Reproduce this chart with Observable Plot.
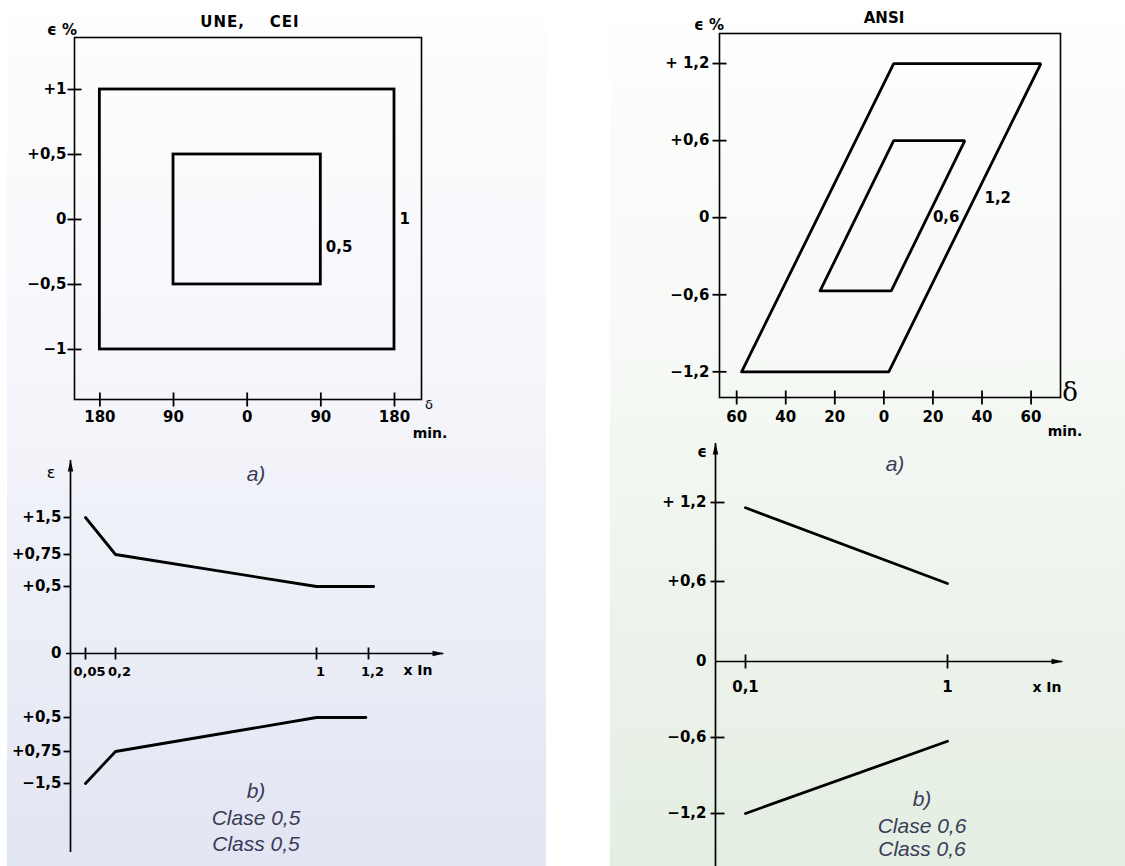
<!DOCTYPE html>
<html>
<head>
<meta charset="utf-8">
<script src="https://cdn.jsdelivr.net/npm/d3@7"></script>
<script src="https://cdn.jsdelivr.net/npm/@observablehq/plot@0.6"></script>
<style>
  html, body { margin: 0; padding: 0; background: #fff; }
  #root { position: relative; width: 1125px; height: 866px; overflow: hidden; background: #fff;
          font-family: "DejaVu Sans", "Liberation Sans", Arial, sans-serif; }
  .bg { position: absolute; }
  .plot { position: absolute; }
  .lbl { position: absolute; white-space: pre; line-height: 1; color: #000; }
  .b { font-weight: bold; }
  .it { font-style: italic; color: #3a3c58; font-size: 21px; font-family: "Liberation Sans", Arial, sans-serif; }
</style>
</head>
<body>
<div id="root">
  <div class="bg" style="left:7px;top:15px;width:539px;height:851px;background:linear-gradient(#fdfdfe 0%, #f6f7fb 40%, #eceef7 70%, #e2e5f2 100%);"></div>
  <div class="bg" style="left:610px;top:20px;width:515px;height:846px;background:linear-gradient(#fdfefd 0%, #f6f9f5 40%, #edf3ec 70%, #e4eee2 100%);"></div>
</div>
<script>
// ---------------- DATA ----------------
// (a) UNE, CEI : rectangular error limits (delta in minutes, epsilon in %)
const uneClasses = ["1", "0,5"];
const uneDeltaLimit = [180, 90];
const uneEpsLimit = [1, 0.5];
const uneLabelEps = [0, -0.21];
const uneXTicks = [-180, -90, 0, 90, 180];
const uneXTickLabels = ["180", "90", "0", "90", "180"];
const uneYTicks = [1, 0.5, 0, -0.5, -1];
const uneYTickLabels = ["+1", "+0,5", "0", "\u22120,5", "\u22121"];

// (a) ANSI : parallelogram limits
const ansiClasses = ["1,2", "0,6"];
const ansiOuterDelta = [-58, 2, 64, 4];
const ansiOuterEps = [-1.2, -1.2, 1.2, 1.2];
const ansiInnerDelta = [-26, 3, 33, 4];
const ansiInnerEps = [-0.57, -0.57, 0.6, 0.6];
const ansiLabelDelta = [41, 20];
const ansiLabelEps = [0.15, 0];
const ansiXTicks = [-60, -40, -20, 0, 20, 40, 60];
const ansiXTickLabels = ["60", "40", "20", "0", "20", "40", "60"];
const ansiYTicks = [1.2, 0.6, 0, -0.6, -1.2];
const ansiYTickLabels = ["+ 1,2", "+0,6", "0", "\u22120,6", "\u22121,2"];

// (b) Clase 0,5 : epsilon vs x In
const c05UpperIn = [0.05, 0.2, 1, 1.22];
const c05UpperEps = [1.5, 0.75, 0.5, 0.5];
const c05LowerIn = [0.05, 0.2, 1, 1.19];
const c05LowerEps = [-1.5, -0.75, -0.5, -0.5];
const c05XTicks = [0.05, 0.2, 1, 1.2];
const c05XTickLabels = ["0,05", "0,2", "1", "1,2"];
const c05YTicks = [1.5, 0.75, 0.5, 0, -0.5, -0.75, -1.5];
const c05YTickLabels = ["+1,5", "+0,75", "+0,5", "0", "+0,5", "+0,75", "\u22121,5"];

// (b) Clase 0,6 : epsilon vs x In
const c06UpperIn = [0.1, 1];
const c06UpperEps = [1.16, 0.585];
const c06LowerIn = [0.1, 1];
const c06LowerEps = [-1.2, -0.63];
const c06XTicks = [0.1, 1];
const c06XTickLabels = ["0,1", "1"];
const c06YTicks = [1.2, 0.6, 0, -0.6, -1.2];
const c06YTickLabels = ["+ 1,2", "+0,6", "0", "\u22120,6", "\u22121,2"];

// ---------------- HELPERS ----------------
const root = document.getElementById("root");
const rad = s => Math.sqrt(s / Math.PI);
const tickV = {draw(c, s) { const r = rad(s); c.moveTo(0, -r); c.lineTo(0, r); }};
const tickH = {draw(c, s) { const r = rad(s); c.moveTo(-r, 0); c.lineTo(r, 0); }};
const tickLeft = {draw(c, s) { const r = rad(s); c.moveTo(-r, 0); c.lineTo(0, 0); }};
const arrowUp = {draw(c, s) { const r = rad(s); c.moveTo(0, -1); c.lineTo(r * 0.55, r * 2.2); c.lineTo(-r * 0.55, r * 2.2); c.closePath(); }};
const arrowRight = {draw(c, s) { const r = rad(s); c.moveTo(1, 0); c.lineTo(-r * 2.2, r * 0.55); c.lineTo(-r * 2.2, -r * 0.55); c.closePath(); }};

const style = {
  background: "transparent", color: "#000", overflow: "visible",
  fontFamily: "'DejaVu Sans', 'Liberation Sans', Arial, sans-serif",
  fontSize: "15px", fontWeight: "bold"
};
const FS = 15;
function place(svg, left, top) {
  svg.classList.add("plot");
  svg.style.left = left + "px";
  svg.style.top = top + "px";
  root.appendChild(svg);
}
function label(text, x, y, cls, css = "") {
  const d = document.createElement("div");
  d.className = "lbl " + cls;
  d.textContent = text;
  d.style.cssText += `left:${x}px;top:${y}px;transform:translate(-50%,-50%);` + css;
  root.appendChild(d);
}
const tickStyle = {stroke: "#000", strokeWidth: 1.8, fill: "none"};

// ---------------- (a) UNE, CEI ----------------
const uneRects = uneClasses.map((cls, i) => ({
  cls, x1: -uneDeltaLimit[i], x2: uneDeltaLimit[i], y1: -uneEpsLimit[i], y2: uneEpsLimit[i], ly: uneLabelEps[i]
}));
place(Plot.plot({
  width: 560, height: 440,
  marginLeft: 74, marginRight: 139, marginTop: 37, marginBottom: 41,
  x: {domain: [-211, 213], axis: null},
  y: {domain: [-1.385, 1.40], axis: null},
  style,
  marks: [
    Plot.frame({stroke: "#000", strokeWidth: 1.6}),
    Plot.rect(uneRects, {x1: "x1", x2: "x2", y1: "y1", y2: "y2", fill: "none", stroke: "#000", strokeWidth: 2.8}),
    Plot.dot(uneXTicks, {x: d => d, frameAnchor: "bottom", symbol: tickV, r: 7, ...tickStyle}),
    Plot.dot(uneYTicks, {y: d => d, frameAnchor: "left", symbol: tickH, r: 7, ...tickStyle}),
    Plot.text(uneXTicks, {x: d => d, frameAnchor: "bottom", dy: 22, fontSize: FS, text: (d, i) => uneXTickLabels[i]}),
    Plot.text(uneYTicks, {y: d => d, frameAnchor: "left", dx: -8, textAnchor: "end", fontSize: FS, text: (d, i) => uneYTickLabels[i]}),
    Plot.text(uneRects, {x: "x2", y: "ly", dx: 5, textAnchor: "start", fontSize: FS, text: "cls"})
  ]
}), 0, 0);

// ---------------- (a) ANSI ----------------
const ansiRows = [
  ...ansiOuterDelta.concat(ansiOuterDelta[0]).map((d, i) => ({cls: ansiClasses[0], d, e: ansiOuterEps.concat(ansiOuterEps[0])[i]})),
  ...ansiInnerDelta.concat(ansiInnerDelta[0]).map((d, i) => ({cls: ansiClasses[1], d, e: ansiInnerEps.concat(ansiInnerEps[0])[i]}))
];
const ansiLabels = ansiClasses.map((cls, i) => ({cls, d: ansiLabelDelta[i], e: ansiLabelEps[i]}));
place(Plot.plot({
  width: 565, height: 440,
  marginLeft: 159, marginRight: 65, marginTop: 33, marginBottom: 43,
  x: {domain: [-67, 72], axis: null},
  y: {domain: [-1.40, 1.434], axis: null},
  style,
  marks: [
    Plot.frame({stroke: "#000", strokeWidth: 1.6}),
    Plot.line(ansiRows, {x: "d", y: "e", z: "cls", stroke: "#000", strokeWidth: 2.8, strokeLinejoin: "miter", curve: "linear"}),
    Plot.dot(ansiXTicks, {x: d => d, frameAnchor: "bottom", symbol: tickV, r: 7, ...tickStyle}),
    Plot.dot(ansiYTicks, {y: d => d, frameAnchor: "left", symbol: tickH, r: 7, ...tickStyle}),
    Plot.text(ansiXTicks, {x: d => d, frameAnchor: "bottom", dy: 24, fontSize: FS, text: (d, i) => ansiXTickLabels[i]}),
    Plot.text(ansiYTicks, {y: d => d, frameAnchor: "left", dx: -10, textAnchor: "end", fontSize: FS, text: (d, i) => ansiYTickLabels[i]}),
    Plot.text(ansiLabels, {x: "d", y: "e", textAnchor: "start", fontSize: FS, text: "cls"})
  ]
}), 560, 0);

// ---------------- (b) Clase 0,5 ----------------
const c05Rows = [
  ...c05UpperIn.map((x, i) => ({side: "upper", x, e: c05UpperEps[i]})),
  ...c05LowerIn.map((x, i) => ({side: "lower", x, e: c05LowerEps[i]}))
];
place(Plot.plot({
  width: 560, height: 436,
  marginLeft: 70, marginRight: 117, marginTop: 30, marginBottom: 14,
  x: {type: "linear", domain: [0, 0.05, 0.2, 1, 1.2], range: [70, 85, 115, 316, 368], axis: null},
  y: {type: "linear", domain: [-1.5, -0.75, -0.5, 0, 0.5, 0.75, 1.5], range: [353, 321, 287, 223, 156, 124, 87], axis: null},
  style,
  marks: [
    Plot.ruleX([0], {stroke: "#000", strokeWidth: 1.7}),
    Plot.ruleY([0], {stroke: "#000", strokeWidth: 1.7, insetLeft: -4}),
    Plot.dot([0], {x: d => d, frameAnchor: "top", symbol: arrowUp, r: 5, fill: "#000", stroke: "none"}),
    Plot.dot([0], {y: d => d, frameAnchor: "right", symbol: arrowRight, r: 5, fill: "#000", stroke: "none"}),
    Plot.dot(c05YTicks.filter(d => d !== 0), {y: d => d, frameAnchor: "left", symbol: tickLeft, r: 7, ...tickStyle}),
    Plot.dot(c05XTicks, {x: d => d, y: () => 0, symbol: tickV, r: 6, ...tickStyle}),
    Plot.text(c05YTicks, {y: d => d, frameAnchor: "left", dx: -9, textAnchor: "end", fontSize: FS, text: (d, i) => c05YTickLabels[i]}),
    Plot.text(c05XTicks, {x: d => d, y: () => 0, dx: 4, dy: 18, fontSize: 13, text: (d, i) => c05XTickLabels[i]}),
    Plot.line(c05Rows, {x: "x", y: "e", z: "side", stroke: "#000", strokeWidth: 2.8})
  ]
}), 0, 430);

// ---------------- (b) Clase 0,6 ----------------
const c06Rows = [
  ...c06UpperIn.map((x, i) => ({side: "upper", x, e: c06UpperEps[i]})),
  ...c06LowerIn.map((x, i) => ({side: "lower", x, e: c06LowerEps[i]}))
];
place(Plot.plot({
  width: 565, height: 436,
  marginLeft: 155, marginRight: 63, marginTop: 13, marginBottom: 0,
  x: {type: "linear", domain: [0, 0.1, 1], range: [155, 185, 387], axis: null},
  y: {type: "linear", domain: [-1.2, -0.6, 0, 0.6, 1.2], range: [383, 307, 231, 151, 72], axis: null},
  style,
  marks: [
    Plot.ruleX([0], {stroke: "#000", strokeWidth: 1.7}),
    Plot.ruleY([0], {stroke: "#000", strokeWidth: 1.7}),
    Plot.dot([0], {x: d => d, frameAnchor: "top", symbol: arrowUp, r: 5, fill: "#000", stroke: "none"}),
    Plot.dot([0], {y: d => d, frameAnchor: "right", symbol: arrowRight, r: 5, fill: "#000", stroke: "none"}),
    Plot.dot(c06YTicks.filter(d => d !== 0), {y: d => d, frameAnchor: "left", symbol: tickH, r: 7, ...tickStyle, dx: 2}),
    Plot.dot(c06XTicks, {x: d => d, y: () => 0, symbol: tickV, r: 7, ...tickStyle}),
    Plot.text(c06YTicks, {y: d => d, frameAnchor: "left", dx: -9, textAnchor: "end", fontSize: FS, text: (d, i) => c06YTickLabels[i]}),
    Plot.text(c06XTicks, {x: d => d, y: () => 0, dy: 26, fontSize: FS, text: (d, i) => c06XTickLabels[i]}),
    Plot.line(c06Rows, {x: "x", y: "e", z: "side", stroke: "#000", strokeWidth: 2.8})
  ]
}), 560, 430);

// ---------------- TEXT ANNOTATIONS ----------------
label("UNE,    CEI", 250, 22, "b", "font-size:15px;letter-spacing:1px;");
label("\u03F5 %", 62, 30, "b", "font-size:15px;");
label("\u03B4", 429, 404, "", "font-size:13px;");
label("min.", 430, 433, "b", "font-size:14px;");
label("ANSI", 884, 18, "b", "font-size:15px;");
label("\u03F5 %", 709, 25, "b", "font-size:15px;");
label("\u03B4", 1070, 392, "", "font-size:26px;font-family:'DejaVu Serif',serif;");
label("min.", 1065, 431, "b", "font-size:14px;");

label("\u03B5", 51, 473, "", "font-size:16px;");
label("a)", 256, 473, "it");
label("x In", 418, 670, "b", "font-size:14px;");
label("b)", 256, 790, "it");
label("Clase 0,5", 256, 817, "it");
label("Class 0,5", 256, 843, "it");

label("\u03F5", 702, 452, "b", "font-size:15px;");
label("a)", 895, 463, "it");
label("x In", 1047, 687, "b", "font-size:14px;");
label("b)", 922, 798, "it");
label("Clase 0,6", 922, 825, "it");
label("Class 0,6", 922, 848, "it");
</script>
</body>
</html>
